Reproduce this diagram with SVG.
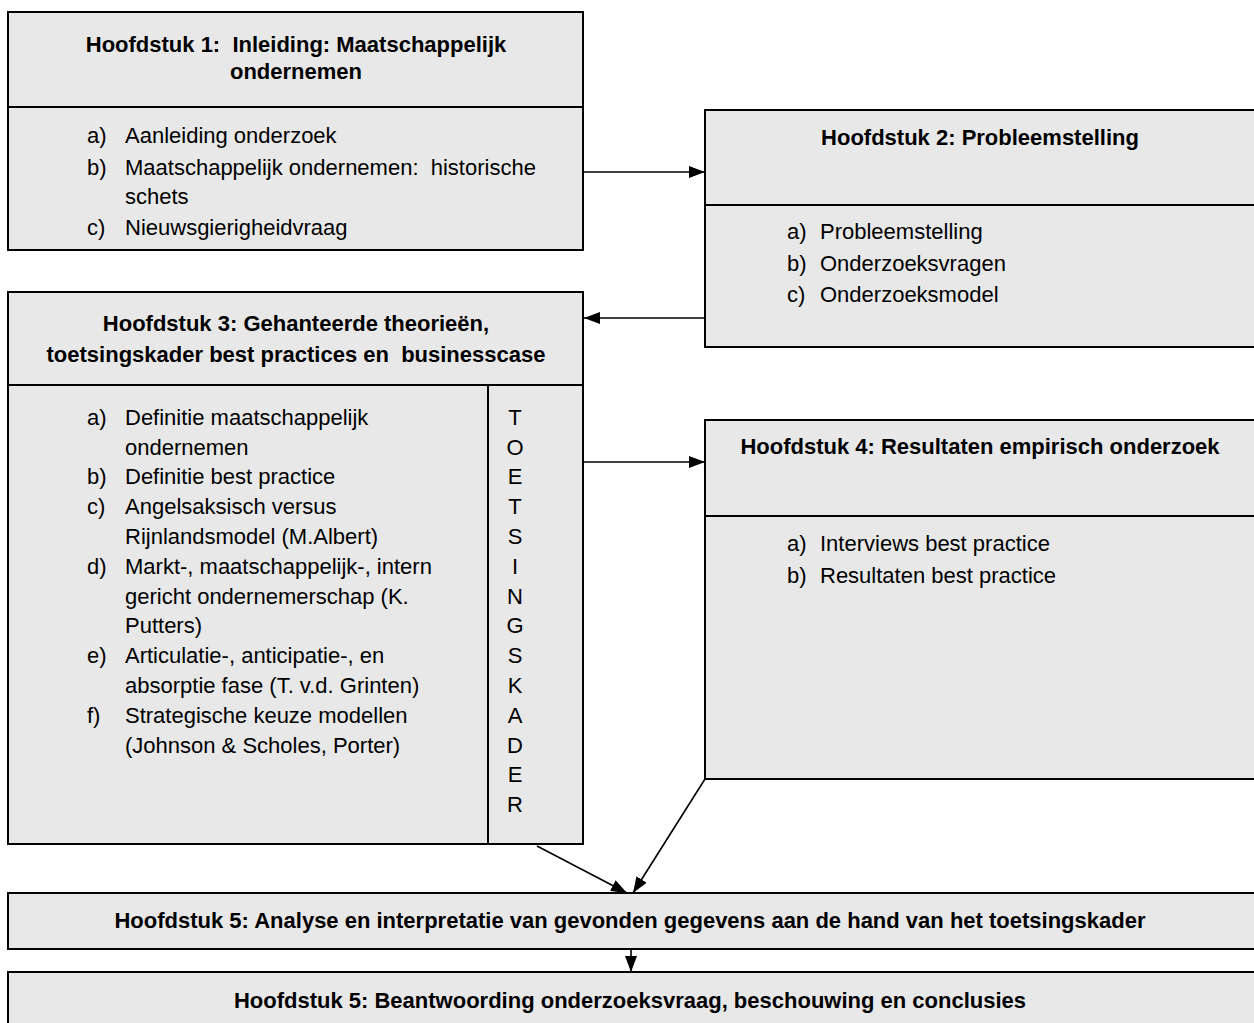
<svg xmlns="http://www.w3.org/2000/svg" width="1254" height="1023" viewBox="0 0 1254 1023" xml:space="preserve">
<defs>
<style>
.box{fill:#e8e8e8;stroke:#000;stroke-width:2}
.ln{stroke:#000;stroke-width:2;fill:none}
.t{font-family:"Liberation Sans",Arial,sans-serif;font-size:22px;fill:#000;white-space:pre}
.b{font-weight:bold}
.m{text-anchor:middle}
.c{stroke:#000;stroke-width:1.6;fill:none}
</style>
<marker id="ah" viewBox="0 0 16 12" refX="16" refY="6" markerWidth="16" markerHeight="12" markerUnits="userSpaceOnUse" orient="auto">
<path d="M0,0 L16,6 L0,12 Z" fill="#000"/>
</marker>
</defs>
<rect width="1254" height="1023" fill="#fff"/>
<g id="connectors">
<line class="c" x1="583" y1="172" x2="705" y2="172" marker-end="url(#ah)"/>
<line class="c" x1="705" y1="318" x2="584" y2="318" marker-end="url(#ah)"/>
<line class="c" x1="583" y1="462" x2="705" y2="462" marker-end="url(#ah)"/>
<line class="c" x1="537" y1="846" x2="627" y2="893" marker-end="url(#ah)"/>
<line class="c" x1="705" y1="779" x2="633" y2="893" marker-end="url(#ah)"/>
<line class="c" x1="631" y1="949" x2="631" y2="972" marker-end="url(#ah)"/>
</g>
<g id="h1">
<rect class="box" x="8" y="12" width="575" height="238"/>
<line class="ln" x1="8" y1="107" x2="583" y2="107"/>
<text class="t b m" x="296" y="52">Hoofdstuk 1:  Inleiding: Maatschappelijk</text>
<text class="t b m" x="296" y="79">ondernemen</text>
<text class="t" x="87" y="143">a)</text><text class="t" x="125" y="143">Aanleiding onderzoek</text>
<text class="t" x="87" y="175">b)</text><text class="t" x="125" y="175">Maatschappelijk ondernemen:  historische</text>
<text class="t" x="125" y="204">schets</text>
<text class="t" x="87" y="235">c)</text><text class="t" x="125" y="235">Nieuwsgierigheidvraag</text>
</g>
<g id="h2">
<rect class="box" x="705" y="110" width="560" height="237"/>
<line class="ln" x1="705" y1="205" x2="1254" y2="205"/>
<text class="t b m" x="980" y="145">Hoofdstuk 2: Probleemstelling</text>
<text class="t" x="787" y="239">a)</text><text class="t" x="820" y="239">Probleemstelling</text>
<text class="t" x="787" y="271">b)</text><text class="t" x="820" y="271">Onderzoeksvragen</text>
<text class="t" x="787" y="302">c)</text><text class="t" x="820" y="302">Onderzoeksmodel</text>
</g>
<g id="h3">
<rect class="box" x="8" y="292" width="575" height="552"/>
<line class="ln" x1="8" y1="385" x2="583" y2="385"/>
<line class="ln" x1="488" y1="385" x2="488" y2="844"/>
<text class="t b m" x="296" y="331">Hoofdstuk 3: Gehanteerde theorieën,</text>
<text class="t b m" x="296" y="362">toetsingskader best practices en  businesscase</text>
<text class="t" x="87" y="425">a)</text><text class="t" x="125" y="425">Definitie maatschappelijk</text>
<text class="t" x="125" y="455">ondernemen</text>
<text class="t" x="87" y="484">b)</text><text class="t" x="125" y="484">Definitie best practice</text>
<text class="t" x="87" y="514">c)</text><text class="t" x="125" y="514">Angelsaksisch versus</text>
<text class="t" x="125" y="544">Rijnlandsmodel (M.Albert)</text>
<text class="t" x="87" y="574">d)</text><text class="t" x="125" y="574">Markt-, maatschappelijk-, intern</text>
<text class="t" x="125" y="604">gericht ondernemerschap (K.</text>
<text class="t" x="125" y="633">Putters)</text>
<text class="t" x="87" y="663">e)</text><text class="t" x="125" y="663">Articulatie-, anticipatie-, en</text>
<text class="t" x="125" y="693">absorptie fase (T. v.d. Grinten)</text>
<text class="t" x="87" y="723">f)</text><text class="t" x="125" y="723">Strategische keuze modellen</text>
<text class="t" x="125" y="753">(Johnson &amp; Scholes, Porter)</text>
<text class="t m" x="515" y="425">T</text>
<text class="t m" x="515" y="455">O</text>
<text class="t m" x="515" y="484">E</text>
<text class="t m" x="515" y="514">T</text>
<text class="t m" x="515" y="544">S</text>
<text class="t m" x="515" y="574">I</text>
<text class="t m" x="515" y="604">N</text>
<text class="t m" x="515" y="633">G</text>
<text class="t m" x="515" y="663">S</text>
<text class="t m" x="515" y="693">K</text>
<text class="t m" x="515" y="723">A</text>
<text class="t m" x="515" y="753">D</text>
<text class="t m" x="515" y="782">E</text>
<text class="t m" x="515" y="812">R</text>
</g>
<g id="h4">
<rect class="box" x="705" y="420" width="560" height="359"/>
<line class="ln" x1="705" y1="516" x2="1254" y2="516"/>
<text class="t b m" x="980" y="454">Hoofdstuk 4: Resultaten empirisch onderzoek</text>
<text class="t" x="787" y="551">a)</text><text class="t" x="820" y="551">Interviews best practice</text>
<text class="t" x="787" y="583">b)</text><text class="t" x="820" y="583">Resultaten best practice</text>
</g>
<g id="h5a">
<rect class="box" x="8" y="893" width="1256" height="56"/>
<text class="t b m" x="630" y="928">Hoofdstuk 5: Analyse en interpretatie van gevonden gegevens aan de hand van het toetsingskader</text>
</g>
<g id="h5b">
<rect class="box" x="8" y="972" width="1256" height="60"/>
<text class="t b m" x="630" y="1008">Hoofdstuk 5: Beantwoording onderzoeksvraag, beschouwing en conclusies</text>
</g>
</svg>
